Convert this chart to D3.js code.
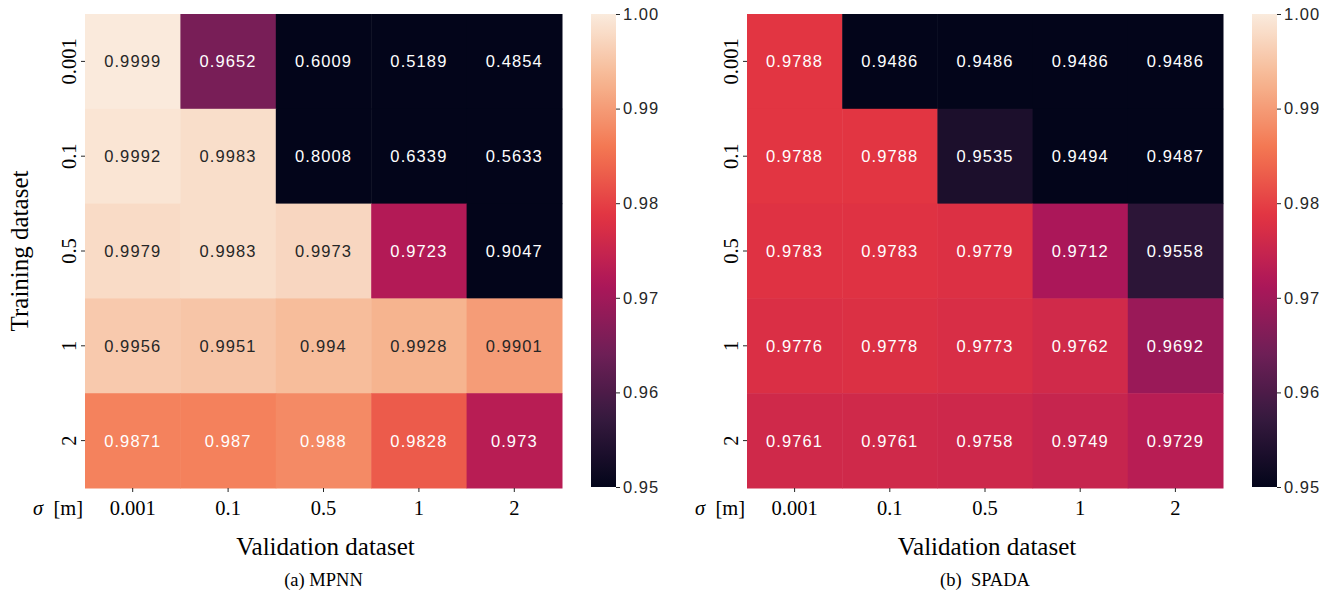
<!DOCTYPE html>
<html>
<head>
<meta charset="utf-8">
<script src="https://cdn.jsdelivr.net/npm/d3@7"></script>
<style>
  html, body { margin: 0; padding: 0; background: #fff; }
  svg { display: block; }
</style>
</head>
<body>
<svg id="chart" width="1329" height="596"></svg>
<script>
// ---------- data ----------
const trainLabels = ["0.001", "0.1", "0.5", "1", "2"];
const validLabels = ["0.001", "0.1", "0.5", "1", "2"];
const mpnnValues = [
  [0.9999, 0.9652, 0.6009, 0.5189, 0.4854],
  [0.9992, 0.9983, 0.8008, 0.6339, 0.5633],
  [0.9979, 0.9983, 0.9973, 0.9723, 0.9047],
  [0.9956, 0.9951, 0.994, 0.9928, 0.9901],
  [0.9871, 0.987, 0.988, 0.9828, 0.973]
];
const spadaValues = [
  [0.9788, 0.9486, 0.9486, 0.9486, 0.9486],
  [0.9788, 0.9788, 0.9535, 0.9494, 0.9487],
  [0.9783, 0.9783, 0.9779, 0.9712, 0.9558],
  [0.9776, 0.9778, 0.9773, 0.9762, 0.9692],
  [0.9761, 0.9761, 0.9758, 0.9749, 0.9729]
];
const colorTicks = [0.95, 0.96, 0.97, 0.98, 0.99, 1.00];
const colorDomain = [0.95, 1.00];
const captions = ["(a) MPNN", "(b)\u00a0\u00a0SPADA"];
// rocket colormap samples
const rocketStops = ["#03051a", "#35193e", "#701f57", "#ad1759", "#e13342", "#f37651", "#f6b48f", "#faebdd"];

// ---------- helpers ----------
const rocket = d3.piecewise(d3.interpolateRgb, rocketStops);
const color = d3.scaleSequential(rocket).domain(colorDomain).clamp(true);

function luminance(c) {
  const rgb = d3.rgb(c);
  const f = v => { v /= 255; return v <= 0.03928 ? v / 12.92 : Math.pow((v + 0.055) / 1.055, 2.4); };
  return 0.2126 * f(rgb.r) + 0.7152 * f(rgb.g) + 0.0722 * f(rgb.b);
}

const svg = d3.select("#chart");
const defs = svg.append("defs");
const serif = "'Liberation Serif', 'Times New Roman', serif";
const sans = "'Liberation Sans', Arial, sans-serif";

function drawPanel(opts) {
  const { x0, x1, y0, y1, cbX, values, caption, idx, showYLabel } = opts;
  const g = svg.append("g");
  const xs = d3.scaleBand().domain(validLabels).range([x0, x1]);
  const ys = d3.scaleBand().domain(trainLabels).range([y0, y1]);

  const cells = [];
  values.forEach((row, i) => row.forEach((v, j) => cells.push({ r: trainLabels[i], c: validLabels[j], v })));

  g.selectAll("rect.cell").data(cells).join("rect")
    .attr("class", "cell")
    .attr("x", d => xs(d.c))
    .attr("y", d => ys(d.r))
    .attr("width", xs.bandwidth() + 0.5)
    .attr("height", ys.bandwidth() + 0.5)
    .attr("fill", d => color(d.v));

  g.selectAll("text.ann").data(cells).join("text")
    .attr("class", "ann")
    .attr("x", d => xs(d.c) + xs.bandwidth() / 2)
    .attr("y", d => ys(d.r) + ys.bandwidth() / 2)
    .attr("text-anchor", "middle")
    .attr("dominant-baseline", "central")
    .attr("font-family", sans)
    .attr("font-size", 16.5)
    .attr("letter-spacing", 1.1)
    .attr("fill", d => luminance(color(d.v)) > 0.408 ? "#262626" : "#ffffff")
    .text(d => String(d.v));

  // x axis
  const xAxis = d3.axisBottom(xs).tickSize(4).tickPadding(8);
  const gx = g.append("g").attr("transform", `translate(0,${y1})`).call(xAxis);
  gx.select(".domain").remove();
  gx.selectAll(".tick line").attr("stroke", "#262626").attr("stroke-width", 1);
  gx.selectAll(".tick text").attr("font-family", serif).attr("font-size", 20.5).attr("fill", "#000");

  // y axis
  const yAxis = d3.axisLeft(ys).tickSize(4).tickPadding(6);
  const gy = g.append("g").attr("transform", `translate(${x0},0)`).call(yAxis);
  gy.select(".domain").remove();
  gy.selectAll(".tick line").attr("stroke", "#262626").attr("stroke-width", 1);
  gy.selectAll(".tick text")
    .attr("font-family", serif).attr("font-size", 20.5).attr("fill", "#000")
    .attr("text-anchor", "middle")
    .attr("dominant-baseline", "auto")
    .attr("x", null).attr("dy", null)
    .attr("transform", "translate(-9,0) rotate(-90)")
    .attr("y", 0);

  // sigma label
  const sig = g.append("text")
    .attr("x", x0 - 2).attr("y", y1 + 27)
    .attr("text-anchor", "end")
    .attr("font-family", serif).attr("font-size", 20.5).attr("fill", "#000");
  sig.append("tspan").attr("font-style", "italic").text("σ");
  sig.append("tspan").text("\u00a0\u00a0[m]");

  // x label
  g.append("text")
    .attr("x", (x0 + x1) / 2 + 2).attr("y", y1 + 67)
    .attr("text-anchor", "middle")
    .attr("font-family", serif).attr("font-size", 25).attr("fill", "#000")
    .text("Validation dataset");

  if (showYLabel) {
    g.append("text")
      .attr("transform", `translate(28,${(y0 + y1) / 2}) rotate(-90)`)
      .attr("text-anchor", "middle")
      .attr("font-family", serif).attr("font-size", 25).attr("fill", "#000")
      .text("Training dataset");
  }

  // caption
  g.append("text")
    .attr("x", (x0 + x1) / 2).attr("y", y1 + 98)
    .attr("text-anchor", "middle")
    .attr("font-family", serif).attr("font-size", 18.5).attr("fill", "#000")
    .text(caption);

  // colorbar
  const cbW = 25;
  const cs = d3.scaleLinear().domain(colorDomain).range([y1 - 1, y0]);
  const gradId = "grad" + idx;
  const grad = defs.append("linearGradient").attr("id", gradId)
    .attr("x1", 0).attr("y1", 1).attr("x2", 0).attr("y2", 0);
  d3.range(0, 1.0001, 0.02).forEach(t => {
    grad.append("stop").attr("offset", t).attr("stop-color", rocket(t));
  });
  g.append("rect")
    .attr("x", cbX).attr("y", y0)
    .attr("width", cbW).attr("height", (y1 - 1) - y0)
    .attr("fill", `url(#${gradId})`);
  const cAxis = d3.axisRight(cs).tickValues(colorTicks).tickFormat(d3.format(".2f")).tickSize(4).tickPadding(3);
  const gc = g.append("g").attr("transform", `translate(${cbX + cbW},0)`).call(cAxis);
  gc.select(".domain").remove();
  gc.selectAll(".tick line").attr("stroke", "#262626");
  gc.selectAll(".tick text").attr("font-family", sans).attr("font-size", 16.5).attr("letter-spacing", 1).attr("fill", "#262626");
}

drawPanel({ x0: 85, x1: 562, y0: 14, y1: 488, cbX: 591, values: mpnnValues, caption: captions[0], idx: 0, showYLabel: true });
drawPanel({ x0: 747, x1: 1223, y0: 14, y1: 488, cbX: 1252, values: spadaValues, caption: captions[1], idx: 1, showYLabel: false });
</script>
</body>
</html>
